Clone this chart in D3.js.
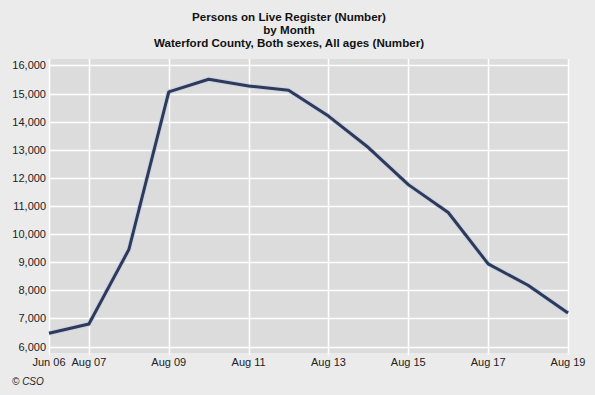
<!DOCTYPE html>
<html>
<head>
<meta charset="utf-8">
<script src="https://cdn.jsdelivr.net/npm/d3@7"></script>
<style>
  body { margin: 0; background: #ebebeb; }
  svg { display: block; font-family: "Liberation Sans", Arial, sans-serif; }
</style>
</head>
<body>
<div id="chart"></div>
<script>
// Data
const months = ["Jun 06", "Aug 07", "Aug 08", "Aug 09", "Aug 10", "Aug 11", "Aug 12",
  "Aug 13", "Aug 14", "Aug 15", "Aug 16", "Aug 17", "Aug 18", "Aug 19"];
const persons = [6470, 6800, 9450, 15060, 15510, 15270, 15120,
  14200, 13080, 11760, 10770, 8940, 8180, 7190];
const xTickLabels = ["Jun 06", "Aug 07", "Aug 09", "Aug 11", "Aug 13", "Aug 15", "Aug 17", "Aug 19"];
const yTicks = [6000, 7000, 8000, 9000, 10000, 11000, 12000, 13000, 14000, 15000, 16000];
const titleLines = ["Persons on Live Register (Number)", "by Month",
  "Waterford County, Both sexes, All ages (Number)"];

const W = 595, H = 395;
const plot = { left: 49, right: 568, top: 59, bottom: 353 };

const svg = d3.select("#chart")
  .append("svg")
  .attr("width", W)
  .attr("height", H);

svg.append("rect")
  .attr("width", W)
  .attr("height", H)
  .attr("fill", "#ebebeb");

// Title
svg.append("g")
  .selectAll("text")
  .data(titleLines)
  .join("text")
  .attr("x", 289)
  .attr("y", (d, i) => 20.5 + i * 13.4)
  .attr("text-anchor", "middle")
  .style("font-size", "11.6px")
  .style("font-weight", "bold")
  .style("fill", "#111")
  .text(d => d);

const x = d3.scalePoint().domain(months).range([plot.left, plot.right]);
const y = d3.scaleLinear().domain([5770, 16230]).range([plot.bottom, plot.top]);

// Plot background
svg.append("rect")
  .attr("x", plot.left)
  .attr("y", plot.top)
  .attr("width", plot.right - plot.left)
  .attr("height", plot.bottom - plot.top)
  .attr("fill", "#dcdcdc");

// Horizontal grid
svg.append("g")
  .selectAll("line")
  .data(yTicks)
  .join("line")
  .attr("x1", plot.left)
  .attr("x2", plot.right)
  .attr("y1", d => Math.round(y(d)) + 0.5)
  .attr("y2", d => Math.round(y(d)) + 0.5)
  .attr("stroke", "#fff")
  .attr("stroke-width", 1.5);

// Vertical grid
svg.append("g")
  .selectAll("line")
  .data(xTickLabels)
  .join("line")
  .attr("x1", d => Math.round(x(d)) + 0.5)
  .attr("x2", d => Math.round(x(d)) + 0.5)
  .attr("y1", plot.top)
  .attr("y2", plot.bottom + 2)
  .attr("stroke", "#fff")
  .attr("stroke-width", 1.5);

// Y axis labels
svg.append("g")
  .selectAll("text")
  .data(yTicks)
  .join("text")
  .attr("x", 46)
  .attr("y", d => y(d) + 4)
  .attr("text-anchor", "end")
  .style("font-size", "11px")
  .style("fill", "#222")
  .text(d => d3.format(",")(d));

// X axis labels
svg.append("g")
  .selectAll("text")
  .data(xTickLabels)
  .join("text")
  .attr("x", d => x(d))
  .attr("y", 366)
  .attr("text-anchor", "middle")
  .style("font-size", "11px")
  .style("fill", "#222")
  .text(d => d);

// Line
const line = d3.line()
  .x((d, i) => x(months[i]))
  .y(d => y(d));

svg.append("path")
  .datum(persons)
  .attr("d", line)
  .attr("fill", "none")
  .attr("stroke", "#c9d3e6")
  .attr("stroke-width", 5)
  .attr("stroke-linejoin", "round");

svg.append("path")
  .datum(persons)
  .attr("d", line)
  .attr("fill", "none")
  .attr("stroke", "#2e3a58")
  .attr("stroke-width", 3)
  .attr("stroke-linejoin", "round");

// Source note
svg.append("text")
  .attr("x", 12)
  .attr("y", 385)
  .style("font-size", "10px")
  .style("font-style", "italic")
  .style("fill", "#222")
  .text("© CSO");
</script>
</body>
</html>
